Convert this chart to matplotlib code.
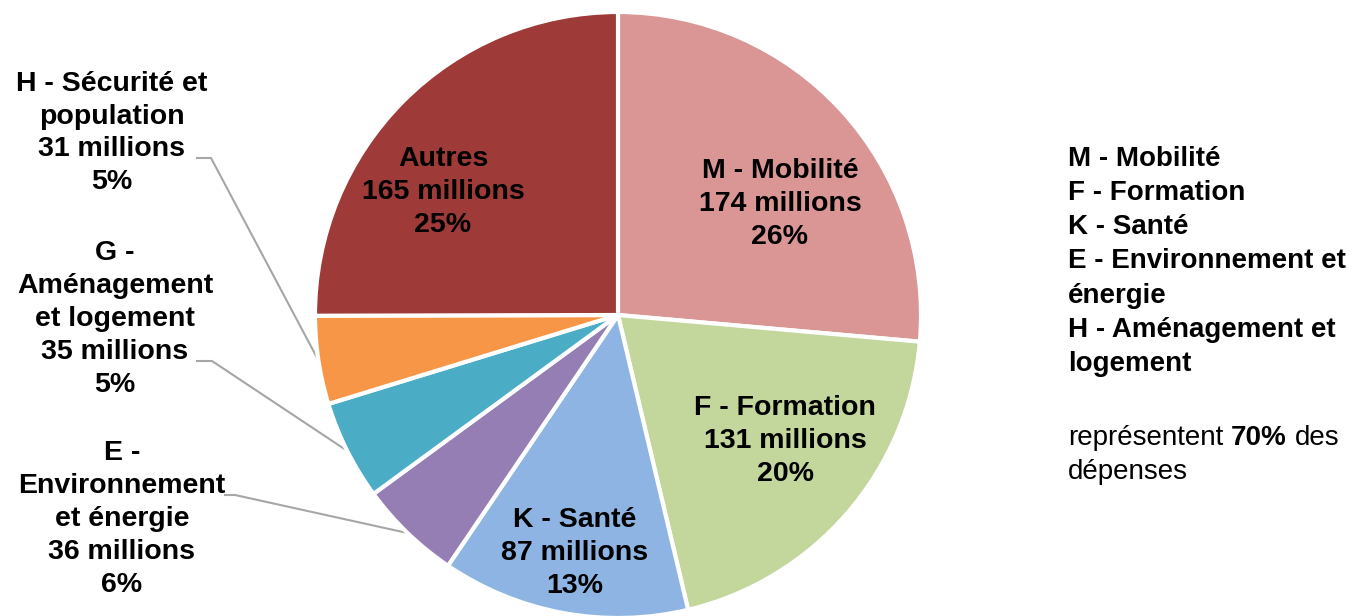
import matplotlib.pyplot as plt
import numpy as np

plt.rcParams['font.family'] = ['Liberation Sans', 'DejaVu Sans']

# Dépenses par politique publique (millions)
noms = ['M - Mobilité', 'F - Formation', 'K - Santé',
        'E -\nEnvironnement\net énergie', 'G -\nAménagement\net logement',
        'H - Sécurité et\npopulation', 'Autres']
montants = [174, 131, 87, 36, 35, 31, 165]
pourcents = [26, 20, 13, 6, 5, 5, 25]
couleurs = ['#D99694', '#C3D69B', '#8EB4E3', '#957EB3', '#4BACC6', '#F79646', '#9E3A38']

W, H = 1352, 616
fig = plt.figure(figsize=(W / 100, H / 100), dpi=100)
ax = fig.add_axes([0, 0, 1, 1])

cx, cy, r = 618, H - 315, 303
wedges, _ = ax.pie(montants, colors=couleurs, startangle=90, counterclock=False,
                   center=(cx, cy), radius=r,
                   wedgeprops=dict(edgecolor='white', linewidth=3))
ax.set_xlim(0, W)
ax.set_ylim(0, H)
ax.set_aspect('equal')
ax.axis('off')

fs = 20.5
ls = 1.34
# étiquettes dans les parts (pixel positions, y from top)
pos_int = {0: (780, 204), 1: (785, 441), 2: (575, 553), 6: (443, 192)}
for i, (x, y) in pos_int.items():
    ax.text(x, H - y, f'{noms[i]}\n{montants[i]} millions\n{pourcents[i]}%',
            ha='center', va='center', fontsize=fs, fontweight='bold', linespacing=ls)

# étiquettes extérieures avec lignes de rappel
pos_ext = {3: (122, 519, 225, 235), 4: (115, 319, 197, 212), 5: (112, 133, 197, 211)}
ligne_y = {3: 495, 4: 361, 5: 158}
for i, (x, y, x0, x1) in pos_ext.items():
    ax.text(x, H - y, f'{noms[i]}\n{montants[i]} millions\n{pourcents[i]}%',
            ha='center', va='center', fontsize=fs, fontweight='bold', linespacing=ls)
    w = wedges[i]
    a = np.deg2rad((w.theta1 + w.theta2) / 2)
    ex, ey = cx + r * np.cos(a), cy + r * np.sin(a)
    ly = H - ligne_y[i]
    ax.plot([x0, x1, ex], [ly, ly, ey], color='#A6A6A6', lw=1.5, zorder=0.5)

# texte de droite
principaux = ['M - Mobilité', 'F - Formation', 'K - Santé', 'E - Environnement et',
              'énergie', 'H - Aménagement et', 'logement']
ax.text(1068, H - 261.5, '\n'.join(principaux), ha='left', va='center',
        fontsize=20, fontweight='bold', linespacing=1.41)

fig.canvas.draw()
rend = fig.canvas.get_renderer()
esp = 20 * 100 / 72 * 0.278
t1 = ax.text(1068, H - 438, 'représentent', ha='left', va='center', fontsize=20)
x = t1.get_window_extent(rend).x1 + esp
t2 = ax.text(x, H - 438, '70%', ha='left', va='center', fontsize=20, fontweight='bold')
x = t2.get_window_extent(rend).x1 + esp
ax.text(x, H - 438, 'des', ha='left', va='center', fontsize=20)
ax.text(1068, H - 472, 'dépenses', ha='left', va='center', fontsize=20)

fig.savefig('out.png', dpi=100)
